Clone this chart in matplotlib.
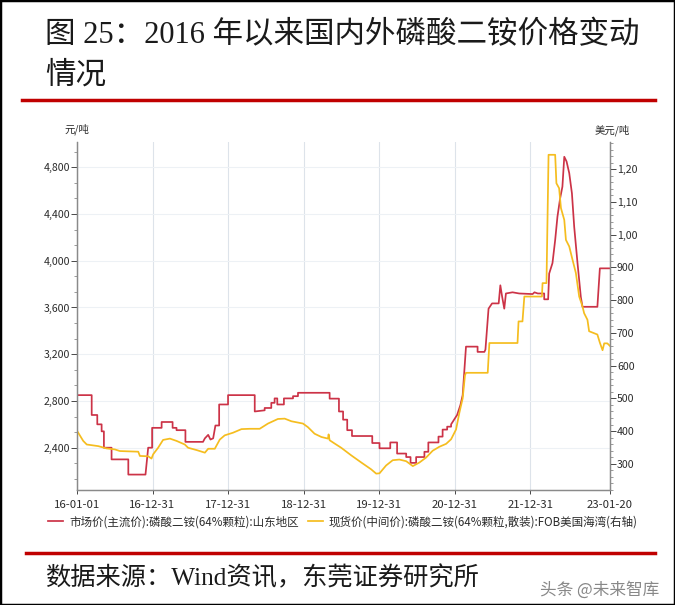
import matplotlib
matplotlib.use('Agg')
import matplotlib.pyplot as plt
import pandas as pd
from matplotlib.ticker import FuncFormatter, MultipleLocator
from matplotlib.patches import Rectangle
from matplotlib.lines import Line2D

plt.rcParams['font.family'] = ['Noto Sans CJK SC', 'DejaVu Sans']

# ---------------- data ----------------
red_dates = [
    '2016-01-01', '2016-03-12', '2016-03-12', '2016-04-08', '2016-04-08', '2016-04-29', '2016-04-29',
    '2016-05-10', '2016-05-10', '2016-06-16', '2016-06-16', '2016-09-05', '2016-09-05', '2016-11-27',
    '2016-12-10', '2016-12-29', '2016-12-29', '2017-02-13', '2017-02-13', '2017-04-07', '2017-04-07',
    '2017-04-26', '2017-04-26', '2017-06-08', '2017-06-08', '2017-09-01', '2017-09-10', '2017-09-26',
    '2017-10-07', '2017-10-20', '2017-10-31', '2017-11-18', '2017-11-18', '2017-12-31', '2017-12-31',
    '2018-05-09', '2018-05-09', '2018-06-26', '2018-06-26', '2018-07-28', '2018-07-28', '2018-08-13',
    '2018-08-13', '2018-08-26', '2018-08-26', '2018-09-27', '2018-09-27', '2018-11-10', '2018-11-10',
    '2018-12-04', '2018-12-04', '2019-05-06', '2019-05-06', '2019-06-20', '2019-06-20', '2019-07-10',
    '2019-07-10', '2019-07-30', '2019-07-30', '2019-08-22', '2019-08-22', '2019-11-28', '2019-11-28',
    '2020-01-02', '2020-01-02', '2020-02-23', '2020-02-23', '2020-03-27', '2020-03-27', '2020-05-10',
    '2020-05-10', '2020-05-31', '2020-05-31', '2020-06-27', '2020-06-27', '2020-08-06', '2020-08-06',
    '2020-08-25', '2020-08-25', '2020-10-13', '2020-10-13', '2020-11-02', '2020-11-02', '2020-11-24',
    '2020-11-24', '2020-12-13', '2020-12-13', '2021-01-11', '2021-01-27', '2021-02-07', '2021-02-23',
    '2021-04-20', '2021-04-20', '2021-05-23', '2021-05-28', '2021-06-12', '2021-06-29', '2021-07-31',
    '2021-08-08', '2021-08-16', '2021-08-27', '2021-09-04', '2021-10-06', '2021-11-07', '2022-01-11',
    '2022-01-20', '2022-02-05', '2022-03-08', '2022-03-08', '2022-03-27', '2022-04-01', '2022-04-17',
    '2022-04-30', '2022-05-11', '2022-05-24', '2022-06-04', '2022-06-13', '2022-06-24', '2022-07-07',
    '2022-07-20', '2022-07-31', '2022-08-16', '2022-09-01', '2022-09-09', '2022-11-20', '2022-12-02',
    '2023-01-20']
red_values = [
    2850, 2850, 2680, 2680, 2600, 2600, 2540,
    2540, 2400, 2400, 2300, 2300, 2170, 2170,
    2400, 2400, 2570, 2570, 2620, 2620, 2570,
    2570, 2550, 2550, 2450, 2450, 2480, 2510,
    2470, 2480, 2590, 2590, 2770, 2770, 2850,
    2850, 2710, 2720, 2740, 2740, 2784, 2784,
    2822, 2822, 2770, 2770, 2822, 2822, 2841,
    2841, 2870, 2870, 2820, 2820, 2710, 2710,
    2640, 2640, 2550, 2550, 2500, 2500, 2440,
    2440, 2395, 2395, 2445, 2445, 2350, 2350,
    2320, 2320, 2270, 2270, 2320, 2320, 2365,
    2365, 2445, 2445, 2495, 2495, 2555, 2555,
    2580, 2580, 2600, 2680, 2765, 2850, 3265,
    3265, 3220, 3220, 3240, 3590, 3635, 3635,
    3790, 3700, 3590, 3720, 3730, 3720, 3715,
    3730, 3720, 3720, 3670, 3670, 3890, 3980,
    4177, 4377, 4535, 4634, 4890, 4850, 4750,
    4577, 4290, 3980, 3690, 3606, 3606, 3935,
    3935]

yellow_dates = [
    '2016-01-02', '2016-01-31', '2016-02-17', '2016-04-13', '2016-05-23', '2016-07-02', '2016-07-26',
    '2016-10-23', '2016-10-31', '2016-12-10', '2016-12-26', '2017-01-03', '2017-01-27', '2017-02-20',
    '2017-03-25', '2017-04-26', '2017-06-05', '2017-06-21', '2017-08-01', '2017-09-10', '2017-09-26',
    '2017-10-28', '2017-11-21', '2017-12-15', '2018-01-24', '2018-03-06', '2018-04-15', '2018-06-02',
    '2018-07-12', '2018-08-29', '2018-10-01', '2018-11-02', '2018-12-28', '2019-01-21', '2019-02-22',
    '2019-03-27', '2019-04-28', '2019-05-01', '2019-05-06', '2019-05-30', '2019-07-01', '2019-08-18',
    '2019-10-06', '2019-11-23', '2019-12-17', '2020-01-02', '2020-02-03', '2020-03-06', '2020-04-07',
    '2020-05-10', '2020-06-11', '2020-07-13', '2020-08-14', '2020-09-15', '2020-10-17', '2020-11-19',
    '2020-12-13', '2021-01-06', '2021-01-22', '2021-02-07', '2021-02-18', '2021-02-23', '2021-06-08',
    '2021-06-16', '2021-10-30', '2021-11-04', '2021-11-23', '2021-12-02', '2022-02-25', '2022-02-28',
    '2022-03-19', '2022-03-29', '2022-04-30', '2022-05-06', '2022-05-19', '2022-05-28', '2022-06-13',
    '2022-06-21', '2022-07-07', '2022-07-23', '2022-08-08', '2022-08-24', '2022-09-09', '2022-09-17',
    '2022-10-03', '2022-10-11', '2022-11-20', '2022-12-02', '2022-12-15', '2022-12-23', '2023-01-07',
    '2023-01-20']
yellow_values = [
    400, 370, 359, 354, 347, 344, 339,
    337, 324, 323, 316, 329, 349, 373,
    377, 370, 359, 349, 342, 334, 346,
    346, 374, 387, 395, 406, 407, 407,
    423, 437, 438, 430, 423, 412, 392,
    382, 377, 390, 372, 362, 349, 326,
    304, 283, 270, 271, 295, 311, 313,
    308, 293, 304, 319, 340, 352, 361,
    375, 405, 456, 500, 570, 578, 578,
    669, 669, 735, 735, 811, 811, 852,
    852, 1244, 1244, 1157, 1142, 1081, 1045,
    984, 964, 923, 883, 811, 781, 760,
    740, 705, 695, 670, 647, 668, 668,
    660]

x_tick_dates = ['2016-01-01', '2016-12-31', '2017-12-31', '2018-12-31',
                '2019-12-31', '2020-12-31', '2021-12-31', '2023-01-20']
x_tick_labels = ['16-01-01', '16-12-31', '17-12-31', '18-12-31',
                 '19-12-31', '20-12-31', '21-12-31', '23-01-20']
left_ticks = [2400, 2800, 3200, 3600, 4000, 4400, 4800]
right_ticks = [300, 400, 500, 600, 700, 800, 900, 1000, 1100, 1200]

red_label = '市场价(主流价):磷酸二铵(64%颗粒):山东地区'
yellow_label = '现货价(中间价):磷酸二铵(64%颗粒,散装):FOB美国海湾(右轴)'
title1 = '图 25：2016 年以来国内外磷酸二铵价格变动'
title2 = '情况'
source = '数据来源：Wind资讯，东莞证券研究所'
watermark = '头条 @未来智库'

# ---------------- figure ----------------
W, H = 675, 605
fig = plt.figure(figsize=(W / 100, H / 100), dpi=100)
fig.patch.set_facecolor('white')

ax = fig.add_axes([77 / W, 1 - 490 / H, (610 - 77) / W, (490 - 141.7) / H])
ax2 = ax.twinx()

RED = '#cc3347'
YEL = '#f5bd1f'
TXT = '#2b2b2b'
SPINE = '#8a8a8a'

rx = pd.to_datetime(red_dates)
yx = pd.to_datetime(yellow_dates)
l1, = ax.plot(rx, red_values, color=RED, lw=1.25, label=red_label)
l2, = ax2.plot(yx, yellow_values, color=YEL, lw=1.25, label=yellow_label)

ax.set_xlim(pd.Timestamp('2016-01-01'), pd.Timestamp('2023-01-20'))
ax.set_ylim(2038, 5019)
ax2.set_ylim(220, 1284)

xt = pd.to_datetime(x_tick_dates)
ax.set_xticks(xt)
ax.set_xticklabels(x_tick_labels)
ax.set_yticks(left_ticks)
ax.yaxis.set_minor_locator(MultipleLocator(400 / 3))
ax2.set_yticks(right_ticks)
ax2.yaxis.set_minor_locator(MultipleLocator(20))

fmt = FuncFormatter(lambda v, p: f'{v:,.0f}')
ax.yaxis.set_major_formatter(fmt)
ax2.yaxis.set_major_formatter(fmt)

ax.tick_params(axis='x', labelsize=8.2, colors=TXT, length=3, width=0.6, pad=4)
ax.tick_params(axis='y', which='major', labelsize=7.6, colors=TXT, length=4, width=0.6, pad=1)
ax.tick_params(axis='y', which='minor', length=2.5, width=0.6, colors=SPINE)
ax2.tick_params(axis='y', which='major', labelsize=7.6, colors=TXT, length=4, width=0.6, pad=1)
ax2.tick_params(axis='y', which='minor', length=2.5, width=0.6, colors=SPINE)
for t in ax.get_xticklabels() + ax.get_yticklabels() + ax2.get_yticklabels():
    t.set_fontweight('medium')

for a in (ax, ax2):
    a.spines['top'].set_visible(False)
    for s in ('left', 'right', 'bottom'):
        a.spines[s].set_color(SPINE)
        a.spines[s].set_linewidth(0.9)

ax.grid(axis='x', color='#dde3ea', lw=0.8)
ax.grid(axis='y', which='major', color='#edf1f5', lw=0.8)
ax.set_axisbelow(True)

leg = fig.legend([l1, l2], [red_label, yellow_label], loc='center',
                 bbox_to_anchor=(343 / W, 1 - 522 / H), ncol=2, frameon=False,
                 fontsize=8.3, handlelength=1.3, handletextpad=0.5, columnspacing=0.8,
                 labelcolor=TXT)
for t in leg.get_texts():
    t.set_fontweight('medium')

# unit labels
fig.text(77 / W, 1 - 129 / H, '元/吨', ha='center', va='center', fontsize=7.5, color=TXT)
fig.text(612 / W, 1 - 130 / H, '美元/吨', ha='center', va='center', fontsize=7.5, color=TXT)

# clip right tick labels like the reference
fig.add_artist(Rectangle((638 / W, 1 - 500 / H), 28 / W, 360 / H, transform=fig.transFigure,
                         facecolor='white', edgecolor='none', zorder=10))

# titles and source
serif_cjk = ['Liberation Serif', 'Noto Sans CJK SC']
fig.text(45 / W, 1 - 36 / H, title1, fontsize=22, va='center', ha='left',
         family=serif_cjk, color='#1a1a1a')
fig.text(45 / W, 1 - 76 / H, title2, fontsize=22, va='center', ha='left',
         family=serif_cjk, color='#1a1a1a')
fig.add_artist(Line2D([22 / W, 655 / W], [1 - 100 / H] * 2, color='#c00000', lw=2.5,
                      transform=fig.transFigure))
fig.add_artist(Line2D([26 / W, 655 / W], [1 - 553 / H] * 2, color='#c00000', lw=2.5,
                      transform=fig.transFigure))
fig.text(45 / W, 1 - 578 / H, source, fontsize=18.2, va='center', ha='left',
         family=serif_cjk, color='#1a1a1a')
fig.text(540 / W, 1 - 590 / H, watermark, fontsize=12, va='center', ha='left', color='#888888')

fig.add_artist(Rectangle((0, 0), 1, 1, transform=fig.transFigure, fill=False,
                         edgecolor='black', lw=2.5, zorder=20))

fig.savefig('out.png', dpi=100)
